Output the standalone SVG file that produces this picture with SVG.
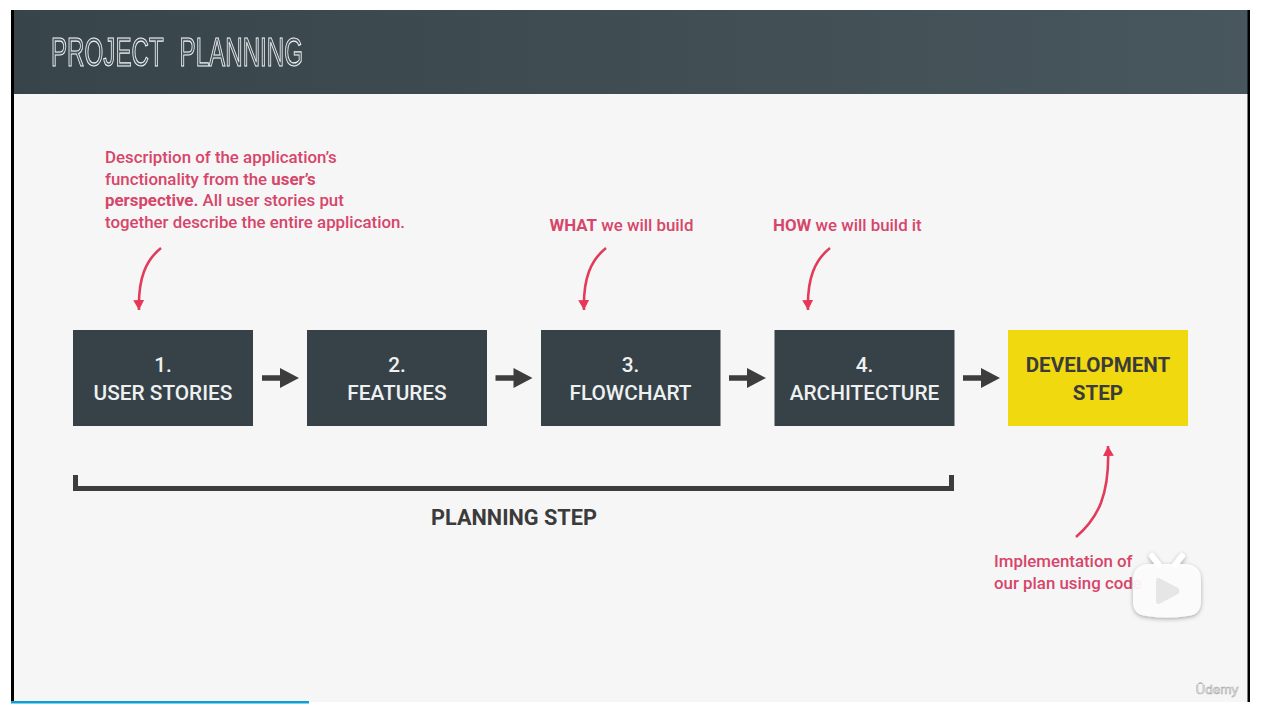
<svg xmlns="http://www.w3.org/2000/svg" width="1264" height="706" viewBox="0 0 1264 706">
<style>
.note{font:500 16.85px Roboto,"Liberation Sans",sans-serif;fill:#d6456a}
.note .b{font-weight:700}
.label{font:500 20.8px Roboto,"Liberation Sans",sans-serif;fill:#eef1f1;text-anchor:middle}
.dark{font-weight:700;fill:#3b3b3b}
.box{fill:#364247}
.curve{fill:none;stroke:#e23c5c;stroke-width:2.6}
.step{fill:none;stroke:#3d3d3d;stroke-width:5}
.title{font-family:"Liberation Sans Narrow","Liberation Sans",sans-serif;font-size:40px;fill:#4a585e;stroke:#f4f6f6;stroke-width:1.2;opacity:.99;word-spacing:16px}
</style>
<defs>
<linearGradient id="hdr" x1="0" x2="1" y1="0" y2="0"><stop offset="0" stop-color="#37444a"/><stop offset="1" stop-color="#48575d"/></linearGradient>
<marker id="red" markerUnits="userSpaceOnUse" markerWidth="12" markerHeight="12" refX="10" refY="5.500" orient="auto"><path d="M0 0L10 5.500L0 11Z" fill="#e8385a"/></marker>
<path id="stepArrow" d="M0 -2.800H18V-10L37 0L18 10V2.800H0Z" fill="#3d3d3d"/>
<filter id="sh" x="-20%" y="-20%" width="140%" height="140%"><feDropShadow dx="0" dy="1.500" stdDeviation="2" flood-color="#000" flood-opacity=".35"/></filter>
</defs>
<rect width="1264" height="706" fill="#fff"/>
<rect x="14" y="10" width="1234" height="692" fill="#f6f6f6"/>
<rect x="11" y="10" width="1237" height="84" fill="url(#hdr)"/>
<rect x="11" y="10" width="3" height="692" fill="#000"/>
<rect x="1247.500" y="10" width="2.500" height="692" fill="#000"/>
<rect x="11" y="701" width="298" height="2.500" fill="#0e9fd8"/>
<text class="title" x="51" y="66" textLength="252" lengthAdjust="spacingAndGlyphs">PROJECT PLANNING</text>

<g id="connectors">
<path class="curve" marker-end="url(#red)" d="M161 248C146 260 138 278 139 310"/>
<path class="curve" marker-end="url(#red)" d="M606 248C591 260 583 278 584 310"/>
<path class="curve" marker-end="url(#red)" d="M830 248C815 260 807 278 808 310"/>
<path class="curve" marker-end="url(#red)" d="M1076 537C1098 518 1110 495 1108 446"/>
<use href="#stepArrow" x="262" y="378"/>
<use href="#stepArrow" x="495.500" y="378"/>
<use href="#stepArrow" x="729" y="378"/>
<use href="#stepArrow" x="963" y="378"/>
<path class="step" d="M75.500 475V488.500H951.500V475"/>
</g>

<g id="note-stories"><text class="note" x="105" y="162.500">Description of the application’s</text>
<text class="note" x="105" y="184.500">functionality from the <tspan class="b">user’s</tspan></text>
<text class="note" x="105" y="206"><tspan class="b">perspective.</tspan> All user stories put</text>
<text class="note" x="105" y="228">together describe the entire application.</text></g>
<g id="note-what"><text class="note" x="549.500" y="231"><tspan class="b">WHAT</tspan> we will build</text></g>
<g id="note-how"><text class="note" x="773" y="231"><tspan class="b">HOW</tspan> we will build it</text></g>

<g id="node-1"><rect class="box" x="73" y="330" width="180" height="96"/><text class="label" x="163" y="372">1.</text><text class="label" x="163" y="400">USER STORIES</text></g>
<g id="node-2"><rect class="box" x="307" y="330" width="180" height="96"/><text class="label" x="397" y="372">2.</text><text class="label" x="397" y="400">FEATURES</text></g>
<g id="node-3"><rect class="box" x="541" y="330" width="179.500" height="96"/><text class="label" x="630.500" y="372">3.</text><text class="label" x="630.500" y="400">FLOWCHART</text></g>
<g id="node-4"><rect class="box" x="774.500" y="330" width="180" height="96"/><text class="label" x="864.500" y="372">4.</text><text class="label" x="864.500" y="400">ARCHITECTURE</text></g>
<g id="node-dev"><rect x="1008" y="330" width="180" height="96" fill="#f0d90f"/><text class="label dark" x="1098" y="372" style="font-size:20.6px">DEVELOPMENT</text><text class="label dark" x="1098" y="400" style="font-size:20.6px">STEP</text></g>
<g id="label-planning"><text class="label dark" x="514" y="525" style="font-size:21.7px">PLANNING STEP</text></g>

<g id="note-dev"><text class="note" x="994" y="567">Implementation of</text>
<text class="note" x="994" y="589">our plan using code</text></g>

<g id="badge" filter="url(#sh)">
<path d="M1152 556L1159 565M1182 556L1175 565" stroke="#fff" stroke-width="6" stroke-linecap="round" fill="none"/>
<path d="M1150 564H1184Q1201 564 1201 581V601Q1201 615 1187 616Q1167 619 1147 616Q1133 615 1133 601V581Q1133 564 1150 564Z" fill="#fff" fill-opacity=".9"/>
</g>
<path d="M1156 582Q1156 576 1161 579L1178 588Q1181 591 1178 594L1161 603Q1156 606 1156 600Z" fill="#e6e6e6"/>
<text x="1217" y="694" text-anchor="middle" font-family="'Liberation Sans',sans-serif" font-size="13.500" fill="#fff" stroke="#a8a8a8" stroke-width=".6">Ûdemy</text>
</svg>
